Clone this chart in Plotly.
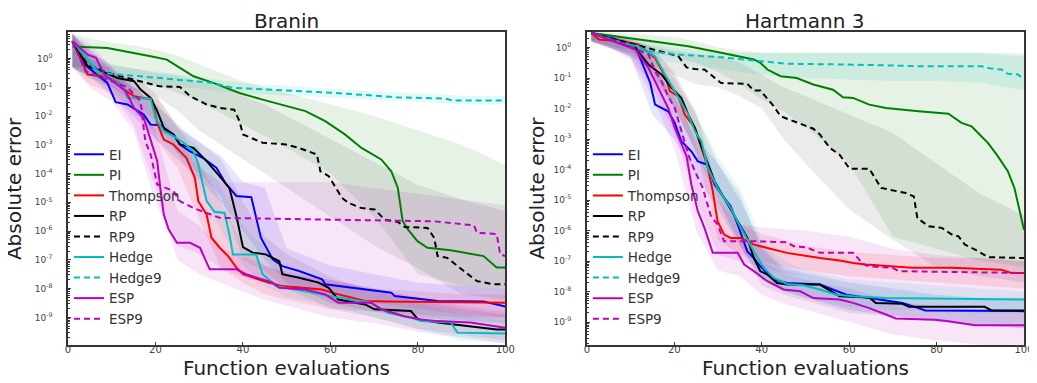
import plotly.graph_objects as go

# ---------------- data (log10 of absolute error) ----------------
SERIES = ["EI", "PI", "Thompson", "RP", "RP9", "Hedge", "Hedge9", "ESP", "ESP9"]
COLORS = ["#0000ff", "#008000", "#ff0000", "#000000", "#000000", "#00bfbf", "#00bfbf", "#bf00bf", "#bf00bf"]
DASHED = [False, False, False, False, True, False, True, False, True]
BAND_X = [1, 5, 10, 15, 20, 25, 30, 35, 40, 45, 50, 60, 70, 80, 90, 100]
Y_TICK_EXP = [0, -1, -2, -3, -4, -5, -6, -7, -8, -9]
X_TICKS = [0, 20, 40, 60, 80, 100]

# ---- Branin medians ----
BR_EI_X = [1, 3.8, 9, 10.9, 13.6, 17.3, 18.9, 21.1, 22.6, 24.1, 25.6, 27.9, 30.9, 33.9, 36.2, 38.5, 41.9, 44.1, 46.8, 49, 52.8, 58.1, 58.8, 65.6, 69.3, 73.9, 74.7, 84.5, 95, 99.5, 100]
BR_EI_LOG = [0.6, -0.21, -0.85, -1.52, -1.6, -1.95, -2.3, -2.32, -2.53, -2.64, -2.99, -3.23, -3.46, -3.8, -4.38, -4.78, -4.82, -6.23, -6.98, -7.22, -7.39, -7.68, -7.85, -7.97, -8.06, -8.14, -8.26, -8.43, -8.45, -8.6, -8.62]
BR_PI_X = [1, 9, 18.9, 22.6, 25.6, 28.7, 33.2, 39.2, 44.5, 50.5, 54.3, 58.8, 63.3, 67.1, 71.6, 73.9, 75.4, 76.5, 77.7, 79.9, 82.2, 87.5, 95, 98, 100]
BR_PI_LOG = [0.42, 0.36, 0.075, -0.04, -0.33, -0.62, -0.85, -1.2, -1.43, -1.66, -1.83, -2.18, -2.64, -3.11, -3.51, -3.92, -4.5, -5.65, -5.94, -6.35, -6.58, -6.67, -6.87, -7.27, -7.27]
BR_TH_X = [1, 4.5, 8.3, 11.7, 12.8, 15.1, 19.2, 20.4, 21.9, 24.1, 27.1, 29, 29.8, 31.7, 32.8, 34.7, 36.6, 38.5, 40, 43.7, 46, 49, 58.1, 60.3, 63.3, 67.9, 73.1, 100]
BR_TH_LOG = [0.6, -0.56, -0.62, -0.85, -1.08, -1.31, -1.43, -2.24, -2.82, -2.99, -3.46, -4.15, -4.96, -5.43, -6.23, -6.58, -6.87, -7.27, -7.5, -7.68, -7.8, -7.91, -8.03, -8.14, -8.26, -8.43, -8.45, -8.49]
BR_RP_X = [1, 4.5, 6.8, 11.3, 15.1, 16.6, 18.9, 20.4, 21.9, 24.1, 25.6, 28.7, 31.7, 34.7, 36.9, 38.5, 40, 42.2, 45.2, 48.3, 49, 52.8, 57.3, 59.6, 61.8, 67.9, 70.1, 78.4, 80, 84.5, 92, 98, 100]
BR_RP_LOG = [0.6, -0.27, -0.39, -0.68, -0.79, -1.08, -1.37, -1.83, -2.41, -2.64, -2.99, -3.11, -3.57, -4.09, -4.5, -5.48, -6.56, -6.75, -6.81, -7.05, -7.5, -7.62, -7.79, -7.97, -8.38, -8.55, -8.72, -8.78, -9.07, -9.18, -9.3, -9.42, -9.42]
BR_RP9_X = [1, 4.5, 9, 16.6, 21, 25.6, 27.9, 31.7, 34.7, 38, 39.2, 40, 44.5, 49.8, 52.8, 56.9, 57.7, 59.6, 62.6, 64.1, 67.1, 70.1, 72.4, 75.4, 77, 82.2, 83.7, 84.5, 86.7, 90.5, 93.5, 97.3, 100]
BR_RP9_LOG = [0.6, -0.21, -0.5, -0.79, -0.97, -0.99, -1.31, -1.6, -1.72, -1.78, -2.18, -2.64, -2.93, -2.99, -3.11, -3.34, -3.92, -4.09, -4.84, -5.02, -5.2, -5.25, -5.6, -5.68, -5.86, -5.89, -6.23, -6.87, -6.93, -7.39, -7.74, -7.85, -7.85]
BR_HE_X = [1, 6, 9, 12.4, 13.6, 18.9, 20, 21.9, 24.1, 26.4, 28.7, 29.8, 31.7, 33.5, 35.8, 36.9, 37.7, 43, 44.5, 47.5, 52, 58.1, 61.1, 69.3, 73.1, 78.4, 80.7, 87.5, 89, 100]
BR_HE_LOG = [0.6, -0.33, -0.68, -0.91, -1.37, -1.4, -2.07, -2.53, -2.7, -2.93, -3.23, -3.69, -4.96, -5.33, -5.37, -6.12, -6.81, -6.81, -7.5, -7.91, -8.03, -8.2, -8.29, -8.49, -8.84, -9.01, -9.13, -9.18, -9.53, -9.56]
BR_HE9_X = [1, 6.8, 16.6, 24, 33, 37.7, 54, 61, 69, 75, 86, 88, 100]
BR_HE9_LOG = [0.6, -0.5, -0.62, -0.73, -0.85, -1.02, -1.14, -1.2, -1.28, -1.35, -1.39, -1.46, -1.46]
BR_ESP_X = [1, 4.5, 6.4, 8.3, 11.3, 13.2, 15.1, 17.3, 18.5, 20.4, 21.1, 21.9, 23, 24.9, 27.9, 30.2, 31.7, 32.4, 38.5, 40.7, 46.8, 48.3, 54.3, 58.8, 61.8, 69.3, 71.6, 76.9, 80.7, 84.5, 92, 100]
BR_ESP_LOG = [0.6, 0.13, 0.02, -0.56, -0.91, -1.14, -1.72, -2.07, -2.64, -3.57, -4.5, -5.43, -5.94, -6.41, -6.41, -6.58, -7.1, -7.33, -7.33, -7.5, -7.79, -7.97, -8.03, -8.2, -8.49, -8.49, -8.72, -8.96, -9.07, -9.13, -9.18, -9.36]
BR_ESP9_X = [1, 4, 13.6, 16.6, 17.3, 17.7, 18.9, 20.4, 24.1, 25.6, 28.7, 34.7, 58.8, 72.4, 83.7, 92.8, 93.5, 98, 98.8, 100]
BR_ESP9_LOG = [0.6, -0.45, -1.0, -1.49, -2.42, -2.88, -3.34, -4.38, -4.61, -4.96, -5.2, -5.54, -5.6, -5.63, -5.66, -5.8, -6.06, -6.1, -6.81, -6.87]

# ---- Branin bands (on BAND_X) ----
BR_EI_LO = [-0.35, -0.6, -1.3, -2.0, -2.8, -3.5, -4.2, -5.0, -6.0, -7.0, -7.8, -8.5, -8.8, -9.0, -9.1, -9.2]
BR_EI_HI = [0.85, 0.3, -0.4, -1.0, -1.6, -2.3, -2.9, -3.4, -4.3, -4.5, -6.6, -7.2, -7.5, -7.8, -7.9, -8.0]
BR_PI_LO = [-0.3, -0.3, -0.4, -0.6, -0.9, -1.2, -1.5, -1.9, -2.3, -2.7, -3.1, -4.0, -5.5, -7.5, -7.9, -8.0]
BR_PI_HI = [0.85, 0.7, 0.55, 0.45, 0.3, 0.1, -0.2, -0.5, -0.8, -1.0, -1.2, -1.6, -2.0, -2.5, -3.0, -3.7]
BR_TH_LO = [-0.3, -0.9, -1.2, -1.8, -2.8, -3.8, -5.6, -7.3, -7.8, -8.2, -8.4, -8.7, -8.8, -8.9, -9.0, -9.0]
BR_TH_HI = [0.85, -0.2, -0.5, -1.0, -1.3, -2.3, -3.6, -5.0, -6.5, -7.2, -7.5, -7.7, -8.0, -8.1, -8.2, -8.2]
BR_RP_LO = [-0.3, -0.7, -1.0, -1.5, -2.2, -3.3, -4.0, -4.8, -7.0, -7.4, -8.0, -8.7, -9.0, -9.4, -9.6, -9.8]
BR_RP_HI = [0.85, 0.0, -0.4, -0.6, -1.2, -2.4, -2.9, -3.5, -5.0, -6.2, -6.8, -7.6, -8.1, -8.4, -8.7, -8.9]
BR_RP9_LO = [-0.3, -0.6, -0.8, -1.1, -1.3, -1.8, -2.5, -3.0, -3.5, -4.0, -4.5, -5.5, -6.5, -7.3, -8.2, -8.4]
BR_RP9_HI = [0.85, 0.2, -0.2, -0.35, -0.5, -0.6, -0.8, -1.0, -1.3, -1.6, -2.0, -2.8, -3.6, -4.4, -4.9, -5.3]
BR_HE_LO = [-0.3, -0.6, -1.0, -1.8, -2.6, -3.3, -4.5, -6.0, -7.2, -7.9, -8.3, -8.6, -9.0, -9.4, -9.8, -9.9]
BR_HE_HI = [0.85, 0.0, -0.4, -1.0, -1.5, -2.4, -3.1, -4.5, -5.8, -6.6, -7.5, -7.8, -8.0, -8.5, -8.9, -9.1]
BR_HE9_LO = [-0.3, -0.7, -0.8, -0.9, -0.95, -1.0, -1.05, -1.15, -1.2, -1.25, -1.3, -1.35, -1.45, -1.5, -1.6, -1.6]
BR_HE9_HI = [0.85, 0.0, -0.25, -0.35, -0.45, -0.55, -0.65, -0.75, -0.85, -0.9, -0.95, -1.05, -1.15, -1.2, -1.3, -1.3]
BR_ESP_LO = [-0.3, -0.4, -1.2, -2.3, -4.5, -7.0, -7.5, -7.8, -8.1, -8.4, -8.6, -9.0, -9.2, -9.5, -9.7, -9.9]
BR_ESP_HI = [0.85, 0.5, -0.3, -1.2, -2.5, -5.3, -5.8, -6.6, -6.9, -7.2, -7.4, -7.7, -8.0, -8.3, -8.6, -8.8]
BR_ESP9_LO = [-0.3, -1.0, -1.5, -2.5, -5.0, -6.5, -6.8, -7.3, -7.6, -7.8, -8.0, -8.3, -8.5, -8.7, -8.9, -9.0]
BR_ESP9_HI = [0.85, 0.3, -0.3, -0.9, -1.8, -2.8, -3.8, -4.3, -4.3, -4.3, -4.3, -4.3, -4.5, -4.7, -4.9, -5.1]

# ---- Hartmann 3 medians ----
HA_EI_X = [1, 8, 11.1, 13.3, 14.5, 15.6, 17.1, 18.6, 20.1, 21.6, 23.9, 25.4, 27.7, 29.2, 31.4, 32.9, 34.5, 36.7, 38.2, 39.7, 42.8, 45.8, 53.3, 59.4, 64.6, 72.2, 75.9, 77.4, 100]
HA_EI_LOG = [0.48, 0.21, 0.04, -0.72, -1.16, -1.87, -1.98, -2.09, -2.47, -3.07, -3.4, -3.73, -3.84, -4.49, -4.93, -5.2, -5.8, -6.68, -6.9, -7.17, -7.61, -7.72, -7.77, -8.1, -8.21, -8.37, -8.54, -8.62, -8.64]
HA_PI_X = [1, 8, 15.6, 23.2, 30.7, 38.2, 39.7, 41.3, 44.3, 48, 51.8, 56.3, 58.6, 60.9, 64.6, 68.4, 75.9, 82.7, 85.7, 88, 89.5, 91.8, 94, 96.3, 97.8, 98.9, 100]
HA_PI_LOG = [0.48, 0.34, 0.21, 0.04, -0.17, -0.39, -0.5, -0.72, -0.94, -1.0, -1.21, -1.38, -1.63, -1.65, -1.87, -1.98, -2.09, -2.17, -2.47, -2.58, -2.8, -3.13, -3.56, -4.05, -4.6, -5.26, -5.97]
HA_TH_X = [1, 2.8, 8, 11.8, 15.6, 17.9, 19, 20.9, 22.4, 24.7, 26.2, 27.7, 28.8, 29.9, 31.4, 32.9, 35.2, 38.2, 41.3, 45.8, 53.3, 57.8, 60.9, 63.9, 74.4, 83.5, 94.8, 97.1, 100]
HA_TH_LOG = [0.48, 0.26, 0.21, 0.1, -0.34, -0.94, -1.43, -1.6, -2.2, -2.63, -3.29, -3.95, -4.71, -5.69, -6.13, -6.24, -6.24, -6.46, -6.57, -6.73, -6.9, -6.98, -7.06, -7.11, -7.22, -7.22, -7.28, -7.39, -7.39]
HA_RP_X = [1, 8, 11.1, 14.1, 17.1, 19.4, 21.6, 23.2, 24.7, 26.9, 29.2, 31.4, 34.5, 36.7, 38.2, 39.7, 41.3, 43.5, 45.8, 53.3, 57.8, 64.6, 66.1, 72.2, 73.7, 91, 92.5, 100]
HA_RP_LOG = [0.48, 0.15, -0.01, -0.56, -0.89, -1.32, -1.65, -2.2, -2.63, -3.51, -4.38, -4.93, -5.69, -6.24, -6.9, -7.33, -7.44, -7.72, -7.77, -7.77, -8.15, -8.19, -8.37, -8.4, -8.5, -8.5, -8.61, -8.62]
HA_RP9_X = [1, 8, 14.1, 20.9, 22.8, 24.7, 26.9, 29.2, 30.7, 36.7, 38.2, 39.7, 42.8, 44.3, 47.3, 51.8, 53.3, 55.6, 57.8, 60.1, 64.6, 66.1, 67.3, 73, 74.8, 75.6, 78.2, 81.2, 83.5, 85, 86.5, 88.8, 91.8, 100]
HA_RP9_LOG = [0.48, 0.21, -0.01, -0.28, -0.65, -0.7, -0.72, -0.99, -1.16, -1.19, -1.41, -1.41, -1.93, -2.25, -2.42, -2.66, -2.85, -3.29, -3.51, -3.97, -3.97, -4.33, -4.6, -4.77, -4.88, -5.59, -5.86, -5.91, -6.13, -6.19, -6.46, -6.62, -6.87, -6.9]
HA_HE_X = [1, 8, 11.8, 15.6, 17.9, 20.1, 23.2, 24.7, 26.2, 27.7, 29.9, 32.9, 35.2, 38.2, 40.5, 42.8, 45.8, 49.5, 53.3, 57.1, 60.9, 68.4, 100]
HA_HE_LOG = [0.48, 0.15, 0.04, -0.28, -0.89, -1.43, -2.2, -2.74, -3.07, -3.95, -4.6, -5.26, -5.91, -6.68, -7.22, -7.55, -7.75, -7.79, -7.93, -8.1, -8.15, -8.21, -8.26]
HA_HE9_X = [1, 8, 14.1, 20.9, 30.7, 38.2, 45.8, 60.9, 75.9, 90.3, 92.5, 94.8, 96.3, 98.6, 100]
HA_HE9_LOG = [0.48, 0.1, -0.12, -0.23, -0.32, -0.43, -0.53, -0.56, -0.61, -0.61, -0.69, -0.72, -0.86, -0.88, -1.05]
HA_ESP_X = [1, 8, 11.1, 14.1, 16.4, 18.6, 20.1, 21.6, 22.8, 23.9, 25.4, 26.9, 28.8, 34.5, 36, 38.2, 41.3, 45, 48.8, 51.8, 57.8, 60.9, 64.6, 68.4, 70.7, 79.7, 82.7, 88.8, 100]
HA_ESP_LOG = [0.48, 0.1, -0.07, -0.67, -1.32, -1.98, -2.63, -3.18, -3.56, -4.49, -5.37, -5.91, -6.73, -6.73, -7.11, -7.33, -7.66, -7.93, -7.99, -8.21, -8.26, -8.37, -8.54, -8.75, -8.88, -8.92, -8.97, -9.1, -9.1]
HA_ESP9_X = [1, 8, 14.1, 15.6, 17.1, 18.6, 20.1, 21.6, 23.2, 24.7, 26.5, 28.4, 29.9, 31.4, 38.2, 45.8, 47.3, 50.3, 53.3, 60.9, 63.3, 64.6, 69.9, 71.4, 100]
HA_ESP9_LOG = [0.48, 0.15, -0.23, -0.78, -1.1, -1.6, -1.98, -2.74, -3.51, -4.05, -4.6, -5.53, -5.8, -6.35, -6.35, -6.38, -6.51, -6.55, -6.73, -6.73, -7.11, -7.17, -7.22, -7.33, -7.39]

# ---- Hartmann 3 bands (on BAND_X) ----
HA_EI_LO = [0.25, 0.05, -0.3, -2.2, -3.0, -4.2, -5.3, -6.5, -7.6, -8.0, -8.2, -8.6, -8.8, -9.0, -9.1, -9.2]
HA_EI_HI = [0.5, 0.4, 0.2, -0.6, -1.6, -3.0, -3.8, -5.0, -6.5, -7.2, -7.4, -7.7, -7.9, -8.1, -8.2, -8.2]
HA_PI_LO = [0.25, 0.2, 0.0, -0.2, -0.3, -0.5, -0.8, -1.2, -1.7, -2.1, -2.6, -3.8, -6.2, -6.6, -7.0, -7.2]
HA_PI_HI = [0.5, 0.5, 0.45, 0.4, 0.35, 0.2, 0.0, -0.1, -0.17, -0.17, -0.17, -0.17, -0.17, -0.17, -0.17, -0.2]
HA_TH_LO = [0.2, 0.05, -0.1, -0.8, -2.0, -3.4, -6.3, -6.8, -7.0, -7.2, -7.3, -7.5, -7.6, -7.7, -7.8, -7.9]
HA_TH_HI = [0.5, 0.4, 0.3, 0.0, -0.8, -2.1, -4.7, -5.8, -6.1, -6.3, -6.5, -6.7, -6.8, -6.9, -6.9, -7.0]
HA_RP_LO = [0.2, 0.0, -0.2, -1.0, -1.9, -3.5, -5.0, -6.5, -7.8, -8.1, -8.3, -8.7, -8.8, -8.9, -9.1, -9.2]
HA_RP_HI = [0.5, 0.4, 0.25, -0.3, -1.0, -2.2, -3.8, -4.8, -6.6, -7.3, -7.5, -7.8, -8.0, -8.1, -8.2, -8.3]
HA_RP9_LO = [0.2, 0.0, -0.3, -0.6, -0.9, -1.2, -1.3, -1.6, -2.0, -3.0, -3.8, -5.3, -6.3, -7.2, -7.5, -7.7]
HA_RP9_HI = [0.5, 0.4, 0.2, 0.05, -0.1, -0.2, -0.28, -0.5, -0.9, -1.3, -1.6, -2.2, -2.8, -3.8, -4.8, -5.5]
HA_HE_LO = [0.2, 0.05, -0.1, -0.7, -2.0, -3.4, -5.0, -6.4, -7.6, -8.0, -8.2, -8.5, -8.6, -8.6, -8.7, -8.7]
HA_HE_HI = [0.5, 0.4, 0.3, 0.0, -0.9, -2.2, -3.6, -4.6, -6.3, -7.0, -7.3, -7.6, -7.7, -7.8, -7.9, -8.0]
HA_HE9_LO = [0.2, 0.0, -0.2, -0.4, -0.5, -0.6, -0.7, -0.8, -0.9, -0.95, -1.0, -1.05, -1.1, -1.1, -1.15, -1.4]
HA_HE9_HI = [0.5, 0.45, 0.3, 0.15, 0.0, -0.1, -0.15, -0.17, -0.17, -0.17, -0.17, -0.17, -0.17, -0.17, -0.17, -0.3]
HA_ESP_LO = [0.2, 0.0, -0.4, -1.6, -3.3, -6.0, -7.3, -7.5, -8.1, -8.4, -8.6, -9.0, -9.4, -9.6, -9.75, -9.75]
HA_ESP_HI = [0.5, 0.4, 0.2, -0.4, -1.9, -4.2, -6.0, -6.3, -7.0, -7.4, -7.6, -7.9, -8.3, -8.5, -8.6, -8.6]
HA_ESP9_LO = [0.2, 0.0, -0.3, -1.3, -2.8, -5.0, -6.8, -7.0, -7.2, -7.4, -7.5, -7.8, -8.0, -8.1, -8.2, -8.3]
HA_ESP9_HI = [0.5, 0.4, 0.2, -0.3, -1.2, -3.2, -5.0, -5.8, -5.9, -5.95, -6.0, -6.2, -6.6, -6.8, -6.9, -7.0]

# ---------------- assemble ----------------
PANELS = [
    dict(
        x=[BR_EI_X, BR_PI_X, BR_TH_X, BR_RP_X, BR_RP9_X, BR_HE_X, BR_HE9_X, BR_ESP_X, BR_ESP9_X],
        y=[BR_EI_LOG, BR_PI_LOG, BR_TH_LOG, BR_RP_LOG, BR_RP9_LOG, BR_HE_LOG, BR_HE9_LOG, BR_ESP_LOG, BR_ESP9_LOG],
        lo=[BR_EI_LO, BR_PI_LO, BR_TH_LO, BR_RP_LO, BR_RP9_LO, BR_HE_LO, BR_HE9_LO, BR_ESP_LO, BR_ESP9_LO],
        hi=[BR_EI_HI, BR_PI_HI, BR_TH_HI, BR_RP_HI, BR_RP9_HI, BR_HE_HI, BR_HE9_HI, BR_ESP_HI, BR_ESP9_HI],
    ),
    dict(
        x=[HA_EI_X, HA_PI_X, HA_TH_X, HA_RP_X, HA_RP9_X, HA_HE_X, HA_HE9_X, HA_ESP_X, HA_ESP9_X],
        y=[HA_EI_LOG, HA_PI_LOG, HA_TH_LOG, HA_RP_LOG, HA_RP9_LOG, HA_HE_LOG, HA_HE9_LOG, HA_ESP_LOG, HA_ESP9_LOG],
        lo=[HA_EI_LO, HA_PI_LO, HA_TH_LO, HA_RP_LO, HA_RP9_LO, HA_HE_LO, HA_HE9_LO, HA_ESP_LO, HA_ESP9_LO],
        hi=[HA_EI_HI, HA_PI_HI, HA_TH_HI, HA_RP_HI, HA_RP9_HI, HA_HE_HI, HA_HE9_HI, HA_ESP_HI, HA_ESP9_HI],
    ),
]


def rgba(hexc, a):
    h = hexc.lstrip("#")
    return "rgba(%d,%d,%d,%.3f)" % (int(h[0:2], 16), int(h[2:4], 16), int(h[4:6], 16), a)


def pw(vals):
    return [10 ** v for v in vals]


FONT = "DejaVu Sans"
fig = go.Figure()

for p, panel in enumerate(PANELS):
    xa = "x" if p == 0 else "x2"
    ya = "y" if p == 0 else "y2"
    leg = "legend" if p == 0 else "legend2"
    # bands
    for i, name in enumerate(SERIES):
        a = 0.10 if COLORS[i] != "#000000" else 0.08
        fig.add_trace(go.Scatter(
            x=BAND_X + BAND_X[::-1],
            y=pw(panel["hi"][i]) + pw(panel["lo"][i][::-1]),
            fill="toself", fillcolor=rgba(COLORS[i], a),
            line=dict(width=0), mode="lines", hoverinfo="skip",
            showlegend=False, xaxis=xa, yaxis=ya,
        ))
    # median lines
    for i, name in enumerate(SERIES):
        fig.add_trace(go.Scatter(
            x=panel["x"][i], y=pw(panel["y"][i]), mode="lines", name=name,
            line=dict(color=COLORS[i], width=2, dash="6px,4px" if DASHED[i] else "solid"),
            xaxis=xa, yaxis=ya, legend=leg,
        ))

W, H = 1037, 383
ML, MR, MT, MB = 60, 11, 24, 46
PW = W - ML - MR
PH = H - MT - MB


def px_to_paper_x(px):
    return (px - ML) / PW


def py_to_paper_y(py):
    return (H - MB - py) / PH


ytickvals = [10 ** k for k in Y_TICK_EXP]
yticktext = ["10<sup>%d</sup>" % k for k in Y_TICK_EXP]
yminor = [m * 10 ** k for k in range(-10, 1) for m in range(2, 10)]

axis_common = dict(showline=True, mirror=True, linecolor="#333333", linewidth=1.5,
                   showgrid=False, zeroline=False, ticks="inside", ticklen=3,
                   tickcolor="#333333")
minor_y = dict(tickvals=yminor, ticks="inside", ticklen=2, tickcolor="#333333", showgrid=False)

x1d = [0, px_to_paper_x(502)]
x2d = [px_to_paper_x(584.3), 1]

legend_common = dict(xanchor="left", yanchor="top", bgcolor="rgba(0,0,0,0)",
                     font=dict(size=13.5, family=FONT, color="#333333"),
                     tracegroupgap=0, itemwidth=30)

fig.update_layout(
    width=W, height=H,
    margin=dict(l=ML, r=MR, t=MT, b=MB),
    plot_bgcolor="white", paper_bgcolor="white",
    font=dict(family=FONT, color="#333333"),
    xaxis=dict(domain=x1d, range=[0, 100], tickvals=X_TICKS, anchor="y",
               tickfont=dict(size=10, color="#444444"), ticklabelstandoff=-6, **axis_common),
    xaxis2=dict(domain=x2d, range=[0, 100], tickvals=X_TICKS, anchor="y2",
                tickfont=dict(size=10, color="#444444"), ticklabelstandoff=-6, **axis_common),
    yaxis=dict(type="log", range=[-9.96, 0.92], tickvals=ytickvals, ticktext=yticktext,
               anchor="x", tickfont=dict(size=9, color="#444444"), ticklabelstandoff=12,
               minor=minor_y, **axis_common),
    yaxis2=dict(type="log", range=[-9.75, 0.51], tickvals=ytickvals, ticktext=yticktext,
                anchor="x2", tickfont=dict(size=9, color="#444444"), ticklabelstandoff=12,
                minor=minor_y, **axis_common),
    legend=dict(x=px_to_paper_x(61), y=py_to_paper_y(131), **legend_common),
    legend2=dict(x=px_to_paper_x(585.3), y=py_to_paper_y(131), **legend_common),
    showlegend=True,
)

ann = []
for title, cx in [("Branin", 281), ("Hartmann 3", 805)]:
    ann.append(dict(text=title, x=px_to_paper_x(cx), y=py_to_paper_y(0), xref="paper", yref="paper",
                    showarrow=False, font=dict(size=20, family=FONT, color="#222222"),
                    xanchor="center", yanchor="top", borderpad=0))
for cx in [281, 805]:
    ann.append(dict(text="Function evaluations", x=px_to_paper_x(cx), y=py_to_paper_y(360),
                    xref="paper", yref="paper", showarrow=False,
                    font=dict(size=20, family=FONT, color="#222222"),
                    xanchor="center", yanchor="middle"))
for cx in [5, 533]:
    ann.append(dict(text="Absolute error", x=px_to_paper_x(cx), y=py_to_paper_y(180.5),
                    xref="paper", yref="paper", showarrow=False, textangle=-90,
                    font=dict(size=20, family=FONT, color="#222222"),
                    xanchor="center", yanchor="middle"))
fig.update_layout(annotations=ann)

fig.write_html("out.html")
